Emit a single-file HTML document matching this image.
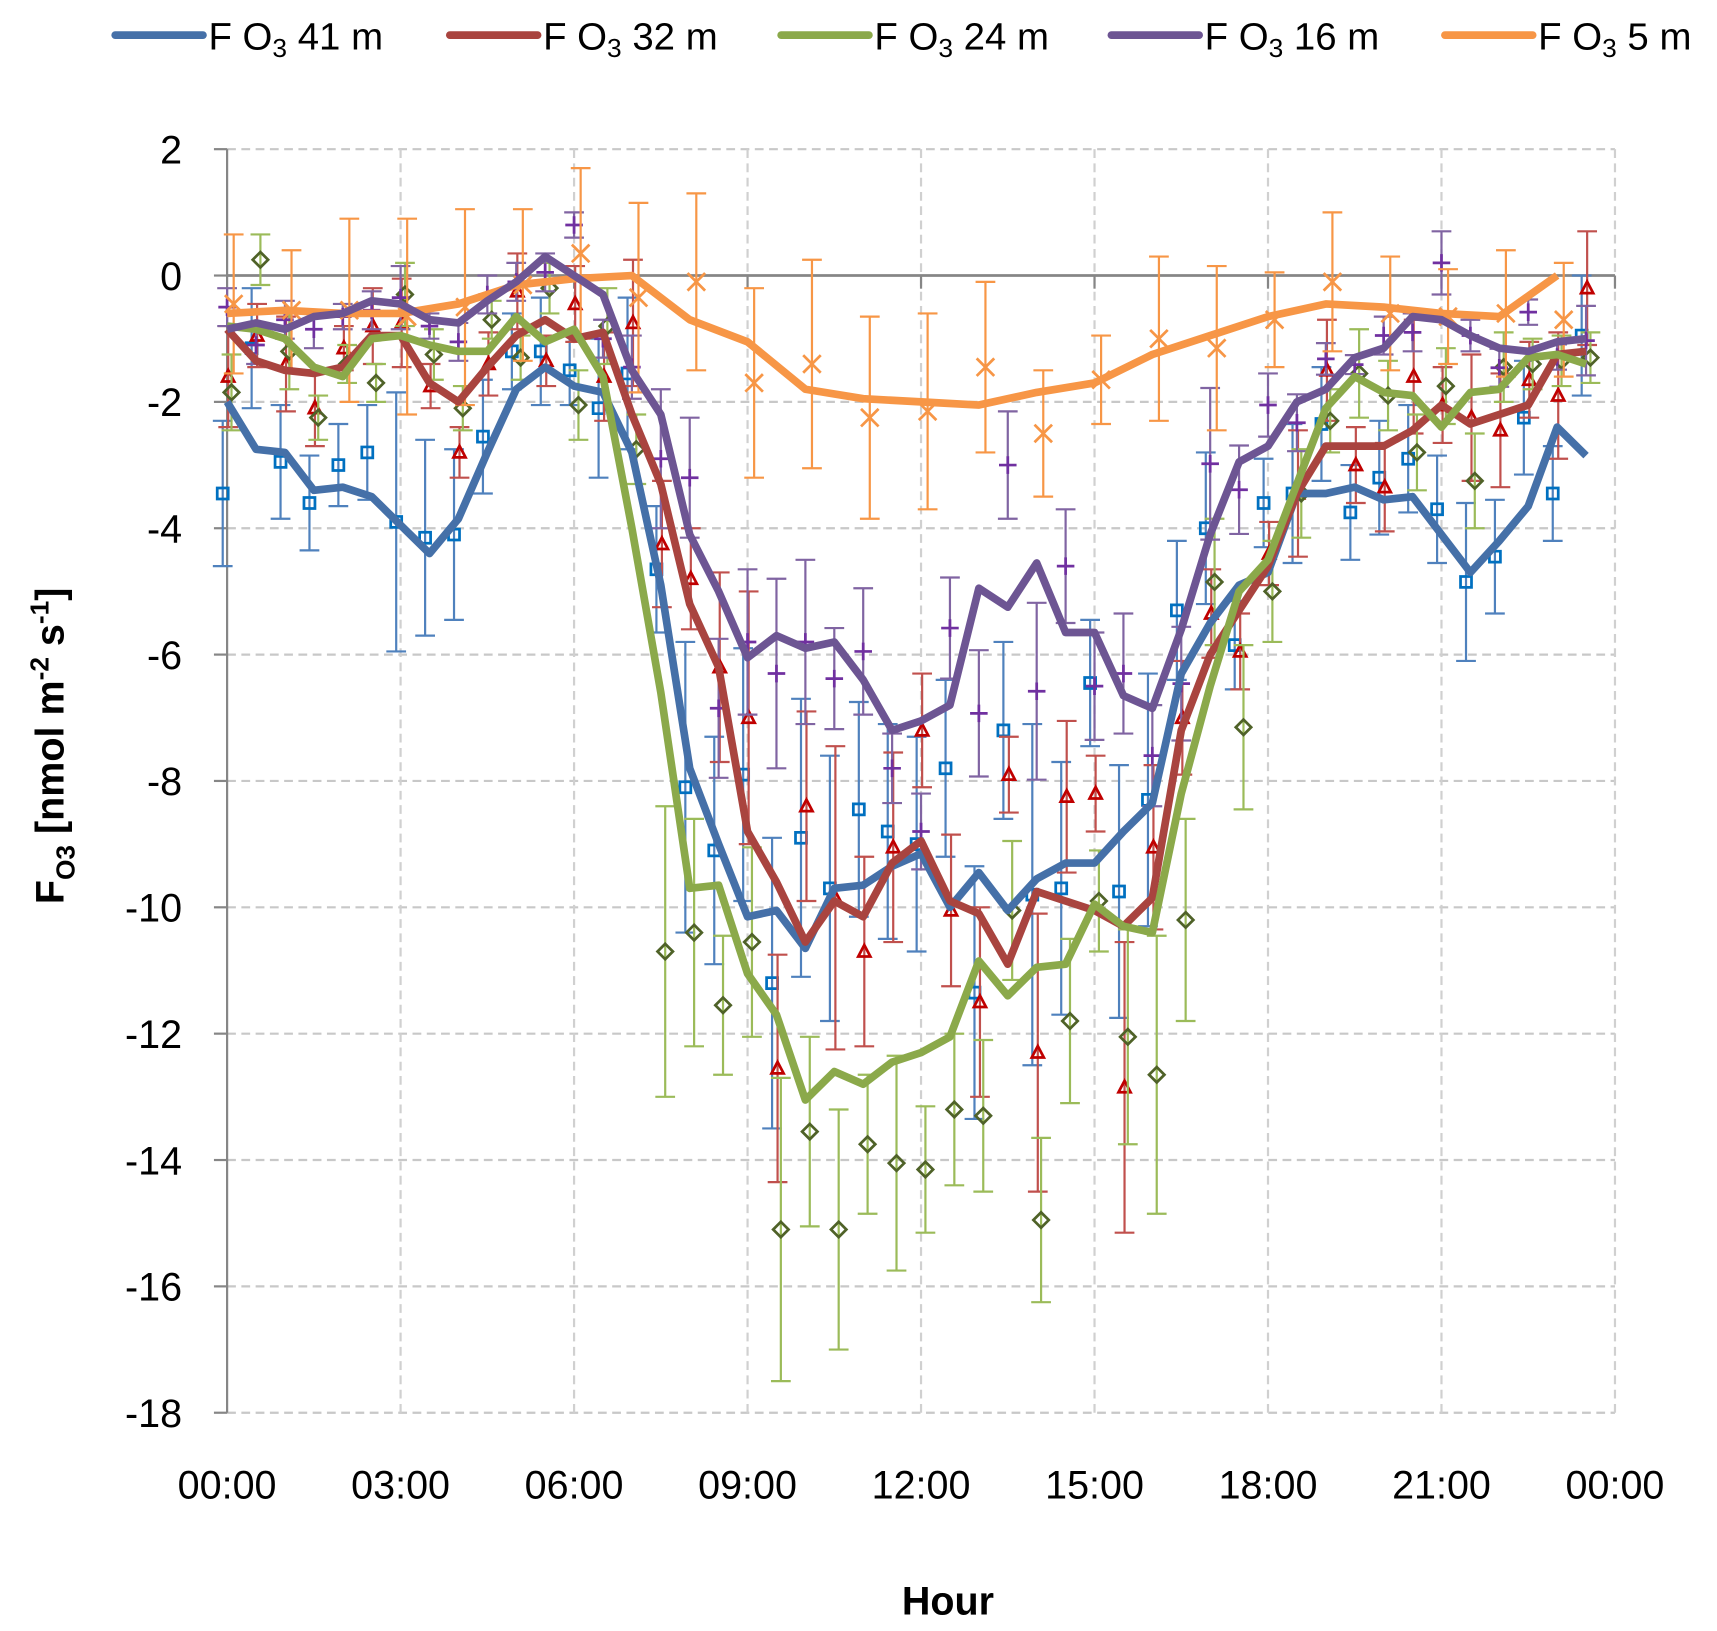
<!DOCTYPE html>
<html><head><meta charset="utf-8"><style>
html,body{margin:0;padding:0;background:#fff}
svg{display:block}
text{font-family:"Liberation Sans",sans-serif}
</style></head><body>
<svg id="chart" width="1717" height="1631" viewBox="0 0 1565 1487" preserveAspectRatio="none" xmlns="http://www.w3.org/2000/svg">
<g id="grid"></g>
<g id="axes"></g>
<g id="series"></g>
<g id="legend"></g>
<text x="864" y="1472" text-anchor="middle" font-size="36" font-weight="bold">Hour</text>
<text transform="translate(58,680) rotate(-90)" text-anchor="middle" font-size="36" font-weight="bold">F<tspan font-size="24" dy="10">O3</tspan><tspan dy="-10"> [nmol m</tspan><tspan font-size="24" dy="-14">-2</tspan><tspan dy="14"> s</tspan><tspan font-size="24" dy="-14">-1</tspan><tspan dy="14">]</tspan></text>
</svg>
<script>
// ---- data ----
const yTicks = [2,0,-2,-4,-6,-8,-10,-12,-14,-16,-18];
const xTickLabels = ["00:00","03:00","06:00","09:00","12:00","15:00","18:00","21:00","00:00"];
const xTickHours = [0,3,6,9,12,15,18,21,24];
const seriesNames = ["F O3 41 m","F O3 32 m","F O3 24 m","F O3 16 m","F O3 5 m"];
const line41 = [-2.0,-2.75,-2.8,-3.4,-3.35,-3.5,-3.95,-4.4,-3.85,-2.8,-1.8,-1.45,-1.75,-1.85,-2.8,-4.9,-7.8,-9.0,-10.15,-10.05,-10.65,-9.7,-9.65,-9.35,-9.15,-10.0,-9.45,-10.05,-9.55,-9.3,-9.3,-8.8,-8.35,-6.3,-5.5,-4.9,-4.7,-3.45,-3.45,-3.35,-3.55,-3.5,-4.1,-4.7,-4.2,-3.65,-2.4,-2.85];
const line32 = [-0.85,-1.35,-1.5,-1.55,-1.45,-0.95,-0.95,-1.7,-2.0,-1.45,-0.95,-0.7,-1.0,-0.9,-2.2,-3.3,-5.2,-6.2,-8.8,-9.6,-10.55,-9.9,-10.15,-9.3,-8.95,-9.9,-10.1,-10.9,-9.75,-9.9,-10.05,-10.3,-9.85,-7.2,-6.0,-5.3,-4.6,-3.45,-2.7,-2.7,-2.7,-2.45,-2.05,-2.35,-2.2,-2.05,-1.25,-1.2];
const line24 = [-0.8,-0.85,-1.0,-1.45,-1.6,-1.0,-0.95,-1.1,-1.2,-1.2,-0.65,-1.05,-0.85,-1.6,-4.0,-6.6,-9.7,-9.65,-11.05,-11.7,-13.05,-12.6,-12.8,-12.45,-12.3,-12.05,-10.85,-11.4,-10.95,-10.9,-9.95,-10.3,-10.4,-8.2,-6.5,-5.0,-4.5,-3.3,-2.1,-1.6,-1.85,-1.9,-2.4,-1.85,-1.8,-1.3,-1.25,-1.4];
const line16 = [-0.85,-0.75,-0.85,-0.65,-0.6,-0.4,-0.45,-0.7,-0.75,-0.4,-0.1,0.3,0.0,-0.3,-1.5,-2.2,-4.1,-5.0,-6.05,-5.7,-5.9,-5.8,-6.4,-7.2,-7.05,-6.8,-4.95,-5.25,-4.55,-5.65,-5.65,-6.65,-6.85,-5.6,-4.1,-2.95,-2.7,-2.0,-1.8,-1.3,-1.15,-0.65,-0.7,-0.95,-1.15,-1.2,-1.05,-1.0];
const line5 = [-0.6,-0.55,-0.6,-0.6,-0.45,-0.15,-0.05,0.0,-0.7,-1.05,-1.8,-1.95,-2.0,-2.05,-1.85,-1.7,-1.25,-0.95,-0.65,-0.45,-0.5,-0.6,-0.65,0.0];
const pts41 = [-3.45,-1.15,-2.95,-3.6,-3.0,-2.8,-3.9,-4.15,-4.1,-2.55,-1.2,-1.2,-1.5,-2.1,-1.55,-4.65,-8.1,-9.1,-7.9,-11.2,-8.9,-9.7,-8.45,-8.8,-9.0,-7.8,-11.35,-7.2,-9.8,-9.7,-6.45,-9.75,-8.3,-5.3,-4.0,-5.85,-3.6,-3.45,-2.35,-3.75,-3.2,-2.9,-3.7,-4.85,-4.45,-2.25,-3.45,-0.95];
const err41 = [1.15,0.95,0.9,0.75,0.65,0.75,2.05,1.55,1.35,0.9,0.6,0.85,0.55,1.1,1.2,1.0,2.3,1.8,2.0,2.3,2.2,2.1,1.7,1.7,1.7,1.4,2.0,1.4,2.7,2.0,1.0,2.0,2.0,1.1,1.2,0.7,0.7,1.1,0.9,0.75,0.9,0.85,0.85,1.25,0.9,0.9,0.75,0.95];
const pts32 = [-1.6,-0.95,-1.4,-2.1,-1.15,-0.8,-0.75,-1.75,-2.8,-1.4,-0.25,-1.35,-0.45,-1.6,-0.75,-4.25,-4.8,-6.2,-7.0,-12.55,-8.4,-9.85,-10.7,-9.05,-7.2,-10.05,-11.5,-7.9,-12.3,-8.25,-8.2,-12.85,-9.05,-7.0,-5.35,-5.95,-4.4,-3.45,-1.5,-3.0,-3.35,-1.6,-2.05,-2.25,-2.45,-1.65,-1.9,-0.2];
const err32 = [0.8,0.5,0.75,0.6,0.35,0.6,0.7,0.35,0.4,0.5,0.6,0.4,0.6,0.7,1.0,1.0,0.8,1.5,2.0,1.8,1.5,2.4,1.5,1.5,0.9,1.2,1.5,0.6,2.2,1.2,0.6,2.3,1.3,0.9,0.7,0.6,0.5,1.0,0.8,0.6,0.7,0.9,0.6,1.0,0.9,0.6,1.0,0.9];
const pts24 = [-1.85,0.25,-1.2,-2.25,-1.4,-1.7,-0.3,-1.25,-2.1,-0.7,-1.3,-0.2,-2.05,-0.8,-2.75,-10.7,-10.4,-11.55,-10.55,-15.1,-13.55,-15.1,-13.75,-14.05,-14.15,-13.2,-13.3,-10.05,-14.95,-11.8,-9.9,-12.05,-12.65,-10.2,-4.85,-7.15,-5.0,-3.45,-2.3,-1.55,-1.9,-2.8,-1.75,-3.25,-1.45,-1.4,-1.35,-1.3];
const err24 = [0.6,0.4,0.6,0.35,0.3,0.3,0.5,0.4,0.35,0.3,0.35,0.4,0.55,0.6,0.55,2.3,1.8,1.1,1.5,2.4,1.5,1.9,1.1,1.7,1.0,1.2,1.2,1.1,1.3,1.3,0.8,1.7,2.2,1.6,1.0,1.3,0.8,0.7,0.5,0.7,0.55,0.6,0.6,0.75,0.55,0.4,0.4,0.4];
const pts16 = [-0.5,-1.1,-0.7,-0.85,-0.65,-0.55,-0.35,-0.8,-1.05,-0.3,-0.1,0.05,0.8,-1.0,-1.45,-2.9,-3.2,-6.85,-5.8,-6.3,-5.8,-6.38,-5.95,-7.8,-8.8,-5.58,-6.93,-3.0,-6.58,-4.6,-6.5,-6.3,-7.6,-6.46,-2.98,-3.39,-2.05,-2.33,-1.32,-1.41,-0.95,-0.9,0.2,-0.95,-1.46,-0.58,-1.29,-1.03];
const err16 = [0.3,0.3,0.3,0.3,0.2,0.3,0.5,0.2,0.3,0.3,0.3,0.3,0.2,0.3,0.5,1.1,0.95,1.1,1.15,1.5,1.3,0.8,1.0,0.55,0.6,0.8,1.0,0.85,1.4,0.9,0.85,0.95,0.8,0.9,1.2,0.7,0.5,0.45,0.25,0.15,0.3,0.3,0.5,0.25,0.3,0.2,0.2,0.55];
const pts5 = [-0.45,-0.55,-0.55,-0.65,-0.5,-0.15,0.35,-0.35,-0.1,-1.7,-1.4,-2.25,-2.15,-1.45,-2.5,-1.65,-1.0,-1.15,-0.7,-0.1,-0.6,-0.65,-0.6,-0.7];
const err5 = [1.1,0.95,1.45,1.55,1.55,1.2,1.35,1.5,1.4,1.5,1.65,1.6,1.55,1.35,1.0,0.7,1.3,1.3,0.75,1.1,0.9,0.75,1.0,0.9];

// ---- layout ----
const X0=207, X1=1472, Y2=136, YM18=1288;
const xS = h => X0 + (X1-X0)*h/24;
const yS = v => Y2 + (2 - v)*(YM18-Y2)/20;
const NS="http://www.w3.org/2000/svg";
function mk(parent, tag, attrs){const e=document.createElementNS(NS,tag);for(const k in attrs)e.setAttribute(k,attrs[k]);parent.appendChild(e);return e;}
const grid=document.getElementById('grid'), axes=document.getElementById('axes'), ser=document.getElementById('series'), leg=document.getElementById('legend');

yTicks.forEach(v=>{
  const y=yS(v);
  if(v!==0){const g=mk(grid,'line',{x1:X0,x2:X1,y1:y,y2:y,stroke:'#c8c8c8','stroke-width':2,'stroke-dasharray':'8,5'});
  
  }
  const t=mk(axes,'line',{x1:X0-12,x2:X0,y1:y,y2:y,stroke:'#868686','stroke-width':2});
  
  
  const l=mk(axes,'text',{x:166,y:y+13,'text-anchor':'end','font-size':36});
  l.textContent=v;
  
  
});
xTickHours.forEach((h,i)=>{
  const x=xS(h);
  if(h>0){const g=mk(grid,'line',{x1:x,x2:x,y1:Y2,y2:YM18,stroke:'#d0d0d0','stroke-width':2,'stroke-dasharray':'8,5'});
  
  
  const tk=mk(axes,'line',{x1:x,x2:x,y1:yS(0),y2:yS(0)+12,stroke:'#868686','stroke-width':2});
  
  }
  const l=mk(axes,'text',{x:x,y:1366,'text-anchor':'middle','font-size':36});
  l.textContent=xTickLabels[i];
  
  
});
const zl=mk(axes,'line',{x1:X0,x2:X1,y1:yS(0),y2:yS(0),stroke:'#868686','stroke-width':2.5});


const ya=mk(axes,'line',{x1:X0,x2:X0,y1:Y2,y2:YM18,stroke:'#868686','stroke-width':2});



const cfg=[
 {line:line41,pts:pts41,err:err41,step:0.5,off:-4,lc:'#4570A8',ec:'#4F81BD',mc:'#0070C0',m:'square'},
 {line:line32,pts:pts32,err:err32,step:0.5,off:1,lc:'#A9443F',ec:'#C0504D',mc:'#C00000',m:'tri'},
 {line:line24,pts:pts24,err:err24,step:0.5,off:4,lc:'#8BA94A',ec:'#9BBB59',mc:'#4F6228',m:'diamond'},
 {line:line16,pts:pts16,err:err16,step:0.5,off:0,lc:'#6D5593',ec:'#8064A2',mc:'#7030A0',m:'plus'},
 {line:line5,pts:pts5,err:err5,step:1,off:6,lc:'#F79646',ec:'#F79646',mc:'#F79646',m:'x'}
];
const order=[4,0,1,2,3];
cfg.forEach((c,si)=>{
  const g=mk(ser,'g',{});
  
  
  c.pts.forEach((v,i)=>{
    const x=xS(i*c.step)+c.off, yt=yS(v+c.err[i]), yb=yS(v-c.err[i]);
    const b=mk(g,'path',{d:`M${x},${yt}V${yb}M${x-9},${yt}H${x+9}M${x-9},${yb}H${x+9}`,stroke:c.ec,'stroke-width':2,fill:'none'});
    
    
    const y=yS(v); let d;
    if(c.m==='square') d=`M${x-5},${y-5}h10v10h-10z`;
    else if(c.m==='tri') d=`M${x},${y-6}L${x+5.5},${y+4.5}H${x-5.5}Z`;
    else if(c.m==='diamond') d=`M${x},${y-7}L${x+7},${y}L${x},${y+7}L${x-7},${y}Z`;
    else if(c.m==='plus') d=`M${x-8},${y}H${x+8}M${x},${y-8}V${y+8}`;
    else d=`M${x-8},${y-8}L${x+8},${y+8}M${x-8},${y+8}L${x+8},${y-8}`;
    const m=mk(g,'path',{d:d,stroke:c.mc,'stroke-width':2.5,fill:'none'});
    
    
  });
});
order.forEach(si=>{
  const c=cfg[si];
  const p=c.line.map((v,i)=>`${xS(i*c.step)},${yS(v)}`).join(' ');
  const pl=mk(ser,'polyline',{points:p,fill:'none',stroke:c.lc,'stroke-width':7,'stroke-linejoin':'round'});
  
  
});
const legX=[105,410,712,1013,1317];
cfg.forEach((c,si)=>{
  const g=mk(leg,'g',{});
  
  
  mk(g,'line',{x1:legX[si],x2:legX[si]+80,y1:32,y2:32,stroke:c.lc,'stroke-width':7,'stroke-linecap':'round'});
  const t=mk(g,'text',{x:legX[si]+85,y:45,'font-size':35});
  const parts=seriesNames[si].split('O3');
  t.appendChild(document.createTextNode(parts[0]+'O'));
  const s=mk(t,'tspan',{'font-size':24,dy:7}); s.textContent='3';
  const r=mk(t,'tspan',{dy:-7}); r.textContent=parts[1];
});
</script>
</body></html>
